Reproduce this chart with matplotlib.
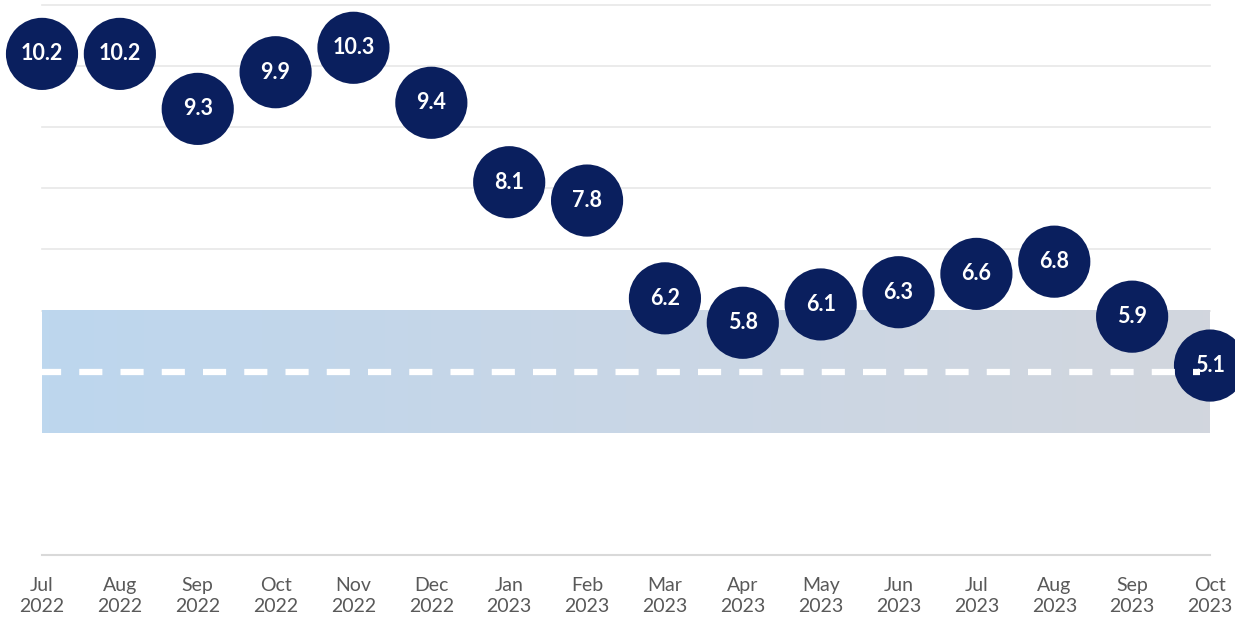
import numpy as np
from matplotlib import pyplot as plt
from matplotlib.colors import LinearSegmentedColormap

months = ['Jul', 'Aug', 'Sep', 'Oct', 'Nov', 'Dec', 'Jan', 'Feb',
          'Mar', 'Apr', 'May', 'Jun', 'Jul', 'Aug', 'Sep', 'Oct']
years = ['2022'] * 6 + ['2023'] * 10
values = [10.2, 10.2, 9.3, 9.9, 10.3, 9.4, 8.1, 7.8,
          6.2, 5.8, 6.1, 6.3, 6.6, 6.8, 5.9, 5.1]
target = 5.0
band_low, band_high = 4.0, 6.0
grid_levels = [6, 7, 8, 9, 10, 11]

NAVY = '#0a1f5e'
W, H, DPI = 1235, 620, 100

fig = plt.figure(figsize=(W / DPI, H / DPI), dpi=DPI)
# axes spans the full width; limits chosen so month 0 sits at x=42px, month 15 at x=1210px
ax = fig.add_axes([0, (H - 555) / H, 1, 555 / H])
n = len(values)
x = np.arange(n)
px_per_x = (1210 - 42) / (n - 1)
ax.set_xlim(-42 / px_per_x, (n - 1) + 25 / px_per_x)
px_per_y = 550 / 9
ax.set_ylim(2, 11 + 5 / px_per_y)

for g in grid_levels:
    ax.plot([0, n - 1], [g, g], color='#e8e8e8', lw=1.2, zorder=0)
ax.plot([0, n - 1], [2, 2], color='#d9d9d9', lw=1.5, zorder=0, clip_on=False)

# tolerance band with a soft left-to-right gradient
cmap = LinearSegmentedColormap.from_list('band', ['#bdd7ee', '#c9d6e6', '#d2d6de'])
ax.imshow(np.linspace(0, 1, 256).reshape(1, -1), cmap=cmap, aspect='auto',
          extent=(0, n - 1, band_low, band_high), zorder=1, interpolation='bicubic')

ax.scatter(x, values, s=2700, color=NAVY, edgecolors='none', zorder=3)

ax.plot([-0.05, n - 1 - 0.13], [target, target], color='white', lw=4.5,
        dashes=(3.7, 2.9), zorder=4)

for xi, v in zip(x, values):
    ax.text(xi, v, f'{v:.1f}', color='white', fontsize=15.5, fontweight='bold',
            family='Lato', ha='center', va='center', zorder=5)

ax.set_xticks(x)
ax.set_xticklabels([f'{m}\n{y}' for m, y in zip(months, years)],
                   fontsize=14, color='#595959', family='Lato', linespacing=1.25)
ax.tick_params(axis='x', length=0, pad=16)
ax.set_yticks([])
for s in ax.spines.values():
    s.set_visible(False)

fig.savefig('out.png', dpi=DPI)
